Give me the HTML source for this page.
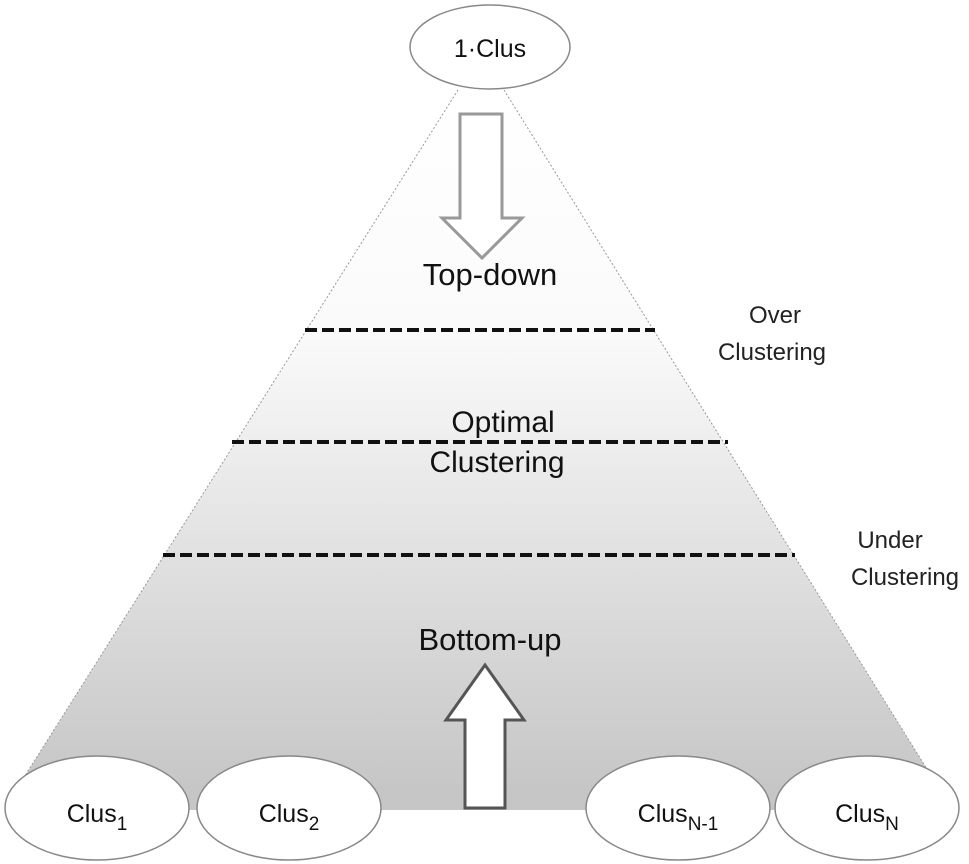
<!DOCTYPE html>
<html><head><meta charset="utf-8"><style>
html,body{margin:0;padding:0;background:#fff;}
svg{display:block;}
text{font-family:"Liberation Sans",sans-serif;}
</style></head><body>
<svg width="969" height="864" viewBox="0 0 969 864" xmlns="http://www.w3.org/2000/svg">
<defs>
<linearGradient id="g" x1="0" y1="0" x2="0" y2="1">
<stop offset="0" stop-color="#ffffff"/>
<stop offset="0.35" stop-color="#fafafa"/>
<stop offset="1" stop-color="#c6c6c6"/>
</linearGradient>
</defs>
<polygon points="458,90 504,90 940,790 16,790" fill="url(#g)"/>
<line x1="458" y1="90" x2="16" y2="790" stroke="#999" stroke-width="1" stroke-dasharray="2,2"/>
<line x1="504" y1="90" x2="940" y2="790" stroke="#999" stroke-width="1" stroke-dasharray="2,2"/>
<rect x="180" y="790" width="600" height="20" fill="#c6c6c6"/>
<!-- top ellipse -->
<ellipse cx="490" cy="47" rx="80" ry="42" fill="#fff" stroke="#888" stroke-width="1.5"/>
<text x="490" y="57" font-size="25" text-anchor="middle" fill="#111">1·Clus</text>
<!-- down arrow -->
<polygon points="460,114 502,114 502,218 522,218 482,258 442,218 460,218" fill="#fff" stroke="#999" stroke-width="3"/>
<text x="490" y="285" font-size="31" text-anchor="middle" fill="#111">Top-down</text>
<!-- dashed -->
<line x1="305" y1="330" x2="655" y2="330" stroke="#111" stroke-width="4" stroke-dasharray="12,5"/>
<line x1="232" y1="442" x2="728" y2="442" stroke="#111" stroke-width="4" stroke-dasharray="12,5"/>
<line x1="163" y1="555" x2="795" y2="555" stroke="#111" stroke-width="4" stroke-dasharray="12,5"/>
<text x="503" y="432" font-size="30" text-anchor="middle" fill="#111">Optimal</text>
<text x="497" y="472" font-size="30" text-anchor="middle" fill="#111">Clustering</text>
<text x="775" y="323" font-size="24" text-anchor="middle" fill="#222">Over</text>
<text x="772" y="360" font-size="24" text-anchor="middle" fill="#222">Clustering</text>
<text x="890" y="548" font-size="24" text-anchor="middle" fill="#222">Under</text>
<text x="905" y="585" font-size="24" text-anchor="middle" fill="#222">Clustering</text>
<text x="490" y="650" font-size="31" text-anchor="middle" fill="#111">Bottom-up</text>
<!-- up arrow -->
<polygon points="485,665 524,720 505,720 505,808 465,808 465,720 446,720" fill="#fff" stroke="#555" stroke-width="3"/>
<!-- bottom ellipses -->
<ellipse cx="97" cy="808" rx="92" ry="52" fill="#fff" stroke="#888" stroke-width="1.5"/>
<ellipse cx="289" cy="808" rx="92" ry="52" fill="#fff" stroke="#888" stroke-width="1.5"/>
<ellipse cx="678" cy="808" rx="92" ry="52" fill="#fff" stroke="#888" stroke-width="1.5"/>
<ellipse cx="867" cy="808" rx="92" ry="52" fill="#fff" stroke="#888" stroke-width="1.5"/>
<text x="97" y="822" font-size="25" text-anchor="middle" fill="#111">Clus<tspan font-size="19" dy="8">1</tspan></text>
<text x="289" y="822" font-size="25" text-anchor="middle" fill="#111">Clus<tspan font-size="19" dy="8">2</tspan></text>
<text x="678" y="822" font-size="25" text-anchor="middle" fill="#111">Clus<tspan font-size="19" dy="8">N-1</tspan></text>
<text x="867" y="822" font-size="25" text-anchor="middle" fill="#111">Clus<tspan font-size="19" dy="8">N</tspan></text>
</svg>
</body></html>
